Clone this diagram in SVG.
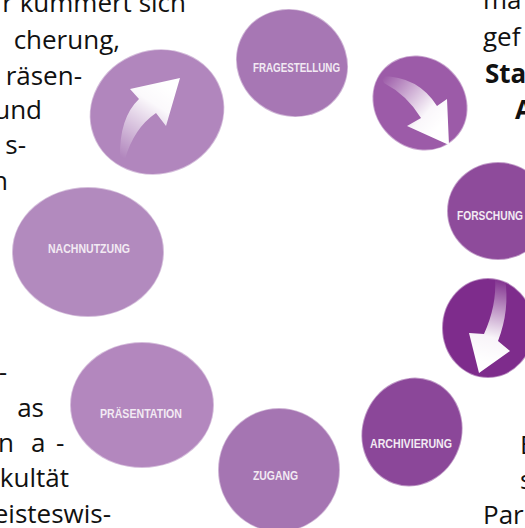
<svg xmlns="http://www.w3.org/2000/svg" width="525" height="528" viewBox="0 0 525 528">
  <style>
    .body { font-family: "Open Sans", "Noto Sans", sans-serif; font-size: 26px; fill: #111; }
    .bold { font-weight: 700; }
    .disc { stroke: #ffffff; stroke-opacity: 0.45; stroke-width: 2; }
    .label { font-family: "Liberation Sans", Arial, sans-serif; font-weight: 700; font-size: 13px; fill: #f2eaf3; }
  </style>
  <defs>
    <linearGradient id="fadeA" gradientUnits="userSpaceOnUse" x1="123" y1="158" x2="168" y2="88">
      <stop offset="0" stop-color="#fff" stop-opacity="0"/>
      <stop offset="0.75" stop-color="#fff" stop-opacity="0.95"/>
      <stop offset="1" stop-color="#fff"/>
    </linearGradient>
    <linearGradient id="fadeB" gradientUnits="userSpaceOnUse" x1="382" y1="79" x2="438" y2="128">
      <stop offset="0" stop-color="#fff" stop-opacity="0"/>
      <stop offset="0.75" stop-color="#fff" stop-opacity="0.95"/>
      <stop offset="1" stop-color="#fff"/>
    </linearGradient>
    <linearGradient id="fadeC" gradientUnits="userSpaceOnUse" x1="500" y1="278" x2="484" y2="362">
      <stop offset="0" stop-color="#fff" stop-opacity="0"/>
      <stop offset="0.7" stop-color="#fff" stop-opacity="0.95"/>
      <stop offset="1" stop-color="#fff"/>
    </linearGradient>
  </defs>

  <rect width="525" height="528" fill="#ffffff"/>

  <!-- running text around the cycle -->
  <g id="text-left">
    <text class="body" x="186" y="12" text-anchor="end">r kümmert sich</text>
    <text class="body" x="120" y="49" text-anchor="end">cherung,</text>
    <text class="body" x="82" y="85" text-anchor="end">räsen-</text>
    <text class="body" x="42" y="119" text-anchor="end">und</text>
    <text class="body" x="26" y="154" text-anchor="end">s-</text>
    <text class="body" x="8" y="190" text-anchor="end">n</text>
    <text class="body" x="7" y="381" text-anchor="end">-</text>
    <text class="body" x="44" y="417" text-anchor="end">as</text>
    <text class="body" x="-2 31 56" y="452">na-</text>
    <text class="body" x="69" y="487" text-anchor="end">kultät</text>
    <text class="body" x="111" y="523" text-anchor="end">eisteswis-</text>
  </g>
  <g id="text-right">
    <text class="body" x="483" y="9">ma</text>
    <text class="body" x="483" y="46">gef</text>
    <text class="body bold" x="485" y="83">Sta</text>
    <text class="body bold" x="515" y="119">A</text>
    <text class="body" x="520" y="454">E</text>
    <text class="body" x="520" y="489">s</text>
    <text class="body" x="483" y="524">Par</text>
  </g>

  <!-- cycle steps -->
  <g id="step-nachnutzung">
    <ellipse class="disc" cx="88" cy="252" rx="76" ry="65" fill="#b28abe"/>
    <text class="label" x="48" y="253" textLength="82" lengthAdjust="spacingAndGlyphs">NACHNUTZUNG</text>
  </g>
  <g id="turn-up">
    <ellipse class="disc" cx="157" cy="112" rx="68" ry="62" fill="#b186bd" transform="rotate(-20 157 112)"/>
  </g>
  <g id="step-fragestellung">
    <ellipse class="disc" cx="292" cy="63" rx="57" ry="53" fill="#a777b4" transform="rotate(30 292 63)"/>
    <text class="label" x="253" y="72" textLength="87" lengthAdjust="spacingAndGlyphs">FRAGESTELLUNG</text>
  </g>
  <g id="turn-right">
    <ellipse class="disc" cx="420" cy="103" rx="50" ry="45" fill="#9c5ba8" transform="rotate(45 420 103)"/>
  </g>
  <g id="step-forschung">
    <ellipse class="disc" cx="498" cy="211" rx="51" ry="49" fill="#8e4b9b"/>
    <text class="label" x="457" y="220" textLength="66" lengthAdjust="spacingAndGlyphs">FORSCHUNG</text>
  </g>
  <g id="turn-down">
    <ellipse class="disc" cx="488" cy="328" rx="46" ry="50" fill="#7e2c8c"/>
  </g>
  <g id="step-archivierung">
    <ellipse class="disc" cx="412" cy="432" rx="50" ry="55" fill="#8b4799" transform="rotate(20 412 432)"/>
    <text class="label" x="370" y="448" textLength="82" lengthAdjust="spacingAndGlyphs">ARCHIVIERUNG</text>
  </g>
  <g id="step-zugang">
    <ellipse class="disc" cx="279" cy="470" rx="61" ry="62" fill="#a575b2"/>
    <text class="label" x="253" y="480" textLength="45" lengthAdjust="spacingAndGlyphs">ZUGANG</text>
  </g>
  <g id="step-praesentation">
    <ellipse class="disc" cx="142" cy="405" rx="72" ry="63" fill="#b387be"/>
    <text class="label" x="100" y="418" textLength="82" lengthAdjust="spacingAndGlyphs">PRÄSENTATION</text>
  </g>

  <!-- curved arrows showing the direction of the cycle -->
  <g id="connectors">
    <path d="M120,158 Q119,118 139,99 L130,89 L180,78 L166,126 L156,113 Q134,128 125,159 Z" fill="url(#fadeA)"/>
    <path d="M381,76 Q418,76 437,106 L447,99 L449,145 L407,126 L421,118 Q407,95 384,83 Z" fill="url(#fadeB)"/>
    <path d="M505,278 Q510,310 498,341 L510,351 L479,373 L469,333 L484,334 Q497,305 495,278 Z" fill="url(#fadeC)"/>
  </g>
</svg>
